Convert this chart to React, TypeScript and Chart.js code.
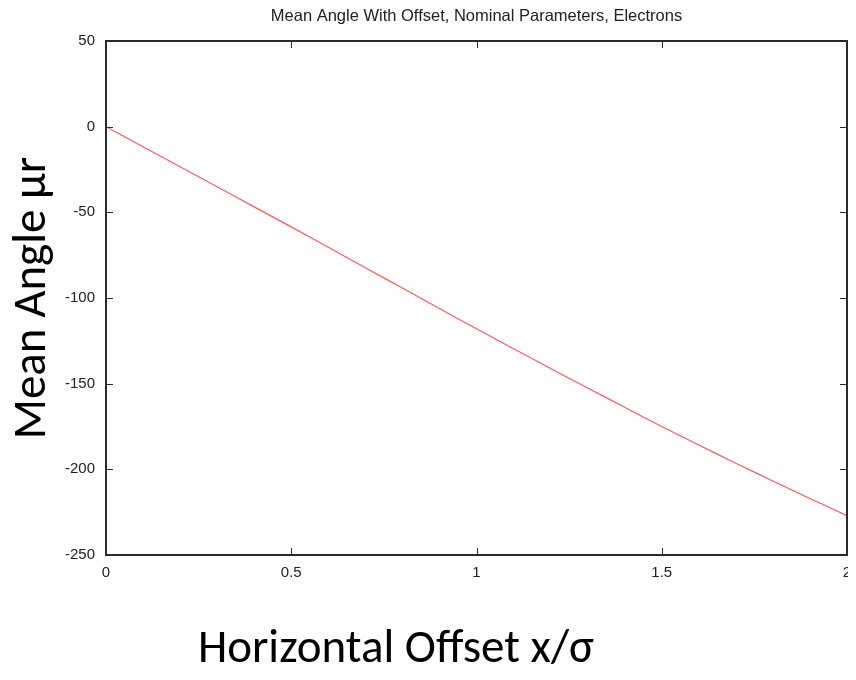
import React, { useEffect, useRef } from "react";
import { Chart, registerables } from "chart.js";

Chart.register(...registerables);

const chartTitle = "Mean Angle With Offset, Nominal Parameters, Electrons";
const xAxisTitle = "Horizontal Offset x/σ";
const yAxisTitle = "Mean Angle μr";

const offsets = [0, 0.1, 0.2, 0.3, 0.4, 0.5, 0.6, 0.7, 0.8, 0.9, 1.0, 1.1, 1.2, 1.3, 1.4, 1.5, 1.6, 1.7, 1.8, 1.9, 2.0];
const meanAngles = [0, -11.7, -23.4, -35.1, -46.8, -58.5, -70.4, -82.3, -94.2, -106.1, -118, -129.6, -141.1, -152.5, -163.8, -175, -185.8, -196.4, -206.8, -217, -227];

const xTicks = [0, 0.5, 1, 1.5, 2];
const yTicks = [50, 0, -50, -100, -150, -200, -250];

const W = 856;
const H = 680;

const framePlugin = {
  id: "frame",
  afterDraw(chart: any) {
    const { ctx, chartArea: a, scales } = chart;
    const xs = scales.x;
    const ys = scales.y;
    ctx.save();
    ctx.strokeStyle = "#2a2a2a";
    ctx.lineWidth = 2;
    ctx.strokeRect(a.left, a.top, a.right - a.left, a.bottom - a.top);
    ctx.lineWidth = 1;
    const tl = 7;
    ctx.beginPath();
    for (const v of xTicks) {
      const px = Math.round(xs.getPixelForValue(v)) + 0.5;
      ctx.moveTo(px, a.bottom);
      ctx.lineTo(px, a.bottom - tl);
      ctx.moveTo(px, a.top);
      ctx.lineTo(px, a.top + tl);
    }
    for (const v of yTicks) {
      const py = Math.round(ys.getPixelForValue(v)) + 0.5;
      ctx.moveTo(a.left, py);
      ctx.lineTo(a.left + tl, py);
      ctx.moveTo(a.right, py);
      ctx.lineTo(a.right - tl, py);
    }
    ctx.stroke();

    // titles
    ctx.fillStyle = "#222";
    ctx.font = "16.5px 'Liberation Sans', Arial, sans-serif";
    ctx.textAlign = "center";
    ctx.textBaseline = "middle";
    ctx.fillText(chartTitle, (a.left + a.right) / 2, 16);

    ctx.fillStyle = "#000";
    ctx.font = "47px Carlito, Lato, 'Open Sans', sans-serif";
    ctx.textBaseline = "alphabetic";
    ctx.fillText(xAxisTitle, 396, 662);

    ctx.save();
    ctx.translate(45, (a.top + a.bottom) / 2);
    ctx.rotate(-Math.PI / 2);
    ctx.fillText(yAxisTitle, 0, 0);
    ctx.restore();
    ctx.restore();
  },
};

export default function App() {
  const ref = useRef<HTMLCanvasElement | null>(null);
  useEffect(() => {
    if (!ref.current) return;
    const chart = new Chart(ref.current, {
      type: "line",
      data: {
        datasets: [
          {
            data: offsets.map((x, i) => ({ x, y: meanAngles[i] })),
            borderColor: "rgb(255,90,90)",
            borderWidth: 1.2,
            pointRadius: 0,
            tension: 0.3,
            fill: false,
          },
        ],
      },
      options: {
        animation: false,
        responsive: false,
        layout: { padding: { top: 41, left: 0, right: 9, bottom: 0 } },
        plugins: { legend: { display: false }, tooltip: { enabled: false }, title: { display: false } },
        scales: {
          x: {
            type: "linear",
            min: 0,
            max: 2,
            grid: { display: false, drawTicks: false },
            border: { display: false },
            afterBuildTicks: (s: any) => { s.ticks = xTicks.map((v) => ({ value: v })); },
            afterFit: (s: any) => { s.height = 125; s.paddingLeft = 0; s.paddingRight = 0; },
            ticks: {
              padding: 9,
              color: "#222",
              font: { family: "'Liberation Sans', Arial, sans-serif", size: 15 },
              callback: (v: any) => String(v),
              maxRotation: 0,
            },
          },
          y: {
            type: "linear",
            min: -250,
            max: 50,
            grid: { display: false, drawTicks: false },
            border: { display: false },
            afterBuildTicks: (s: any) => { s.ticks = yTicks.map((v) => ({ value: v })); },
            afterFit: (s: any) => { s.width = 106; s.paddingTop = 0; s.paddingBottom = 0; },
            ticks: {
              padding: 11,
              color: "#222",
              font: { family: "'Liberation Sans', Arial, sans-serif", size: 15 },
              callback: (v: any) => String(v),
            },
          },
        },
      },
      plugins: [framePlugin],
    });
    return () => chart.destroy();
  }, []);
  return (
    <div style={{ width: W, height: H, margin: -8, overflow: "visible" }}>
      <canvas ref={ref} width={W} height={H} style={{ display: "block" }} />
    </div>
  );
}
